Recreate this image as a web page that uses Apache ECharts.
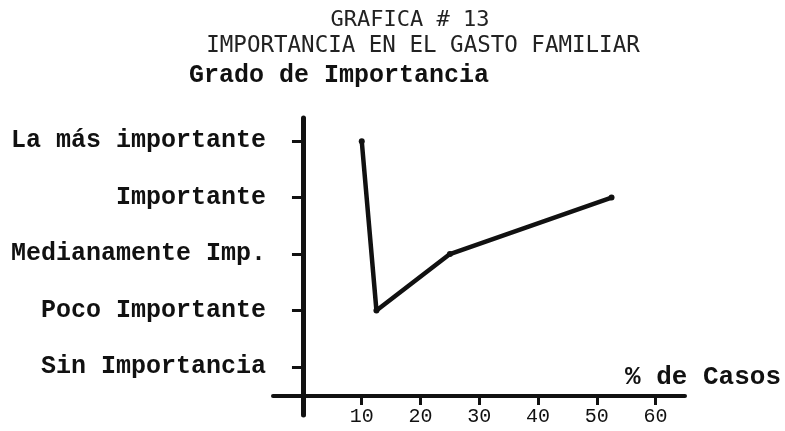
<!DOCTYPE html>
<html>
<head>
<meta charset="utf-8">
<script src="https://cdn.jsdelivr.net/npm/echarts@6/dist/echarts.min.js"></script>
<style>
  html, body { margin: 0; padding: 0; background: #ffffff; }
  #chart { width: 785px; height: 431px; }
</style>
</head>
<body>
<div id="chart"></div>
<script>
// ---- data ----
const titleLine1 = 'GRAFICA # 13';
const titleLine2 = 'IMPORTANCIA EN EL GASTO FAMILIAR';
const yAxisName = 'Grado de Importancia';
const xAxisName = '% de Casos';
const categories = ['Sin Importancia', 'Poco Importante', 'Medianamente Imp.', 'Importante', 'La más importante'];
const xTickLabels = [10, 20, 30, 40, 50, 60];
const pctCasos = [10, 12.5, 25, 52.5];
const importanceLevel = ['La más importante', 'Poco Importante', 'Medianamente Imp.', 'Importante'];

const categoryIdx = categories.map((c, i) => i);
const seriesData = pctCasos.map((x, i) => [x, categories.indexOf(importanceLevel[i])]);

const ink = '#111111';
const chart = echarts.init(document.getElementById('chart'));
chart.setOption({
  backgroundColor: '#ffffff',
  animation: false,
  title: [
    { text: titleLine1, left: 405, top: 4, textAlign: 'center',
      textStyle: { fontFamily: 'DejaVu Sans Mono', fontSize: 22, fontWeight: 'normal', color: '#222' } },
    { text: titleLine2, left: 418, top: 30, textAlign: 'center',
      textStyle: { fontFamily: 'DejaVu Sans Mono', fontSize: 22.5, fontWeight: 'normal', color: '#222' } }
  ],
  grid: { left: 273, right: 100, top: 118, bottom: 16, containLabel: false, outerBoundsMode: 'none' },
  xAxis: {
    type: 'value',
    min: -5.1,
    max: 65,
    position: 'bottom',
    offset: -19,
    name: xAxisName,
    nameLocation: 'end',
    nameGap: -60,
    nameTextStyle: { fontFamily: 'Liberation Mono', fontSize: 26, fontWeight: 'bold', color: ink,
      align: 'left', verticalAlign: 'bottom', padding: [0, 0, 6, 0] },
    axisLine: { onZero: false, lineStyle: { color: ink, width: 4 } },
    axisTick: { show: true, customValues: xTickLabels, length: 9, lineStyle: { color: ink, width: 3 } },
    axisLabel: { customValues: xTickLabels, margin: 11, fontFamily: 'Liberation Mono', fontSize: 20, color: ink },
    splitLine: { show: false }
  },
  yAxis: {
    type: 'value',
    min: -0.85,
    max: 4.41,
    name: yAxisName,
    nameLocation: 'end',
    nameGap: 42,
    nameTextStyle: { fontFamily: 'Liberation Mono', fontSize: 25, fontWeight: 'bold', color: ink,
      align: 'center', verticalAlign: 'middle', padding: [0, 0, 0, 72] },
    axisLine: { onZero: true, lineStyle: { color: ink, width: 5 } },
    axisTick: { show: true, customValues: categoryIdx, length: 11, lineStyle: { color: ink, width: 3 } },
    axisLabel: { customValues: categoryIdx, margin: 7, fontFamily: 'Liberation Mono', fontSize: 25, fontWeight: 'bold', color: ink,
      formatter: v => categories[Math.round(v)] },
    splitLine: { show: false }
  },
  series: [{
    type: 'line',
    data: seriesData,
    symbol: 'circle',
    symbolSize: 6,
    itemStyle: { color: ink },
    lineStyle: { color: ink, width: 4.5, cap: 'round', join: 'round' }
  }]
});
</script>
</body>
</html>
